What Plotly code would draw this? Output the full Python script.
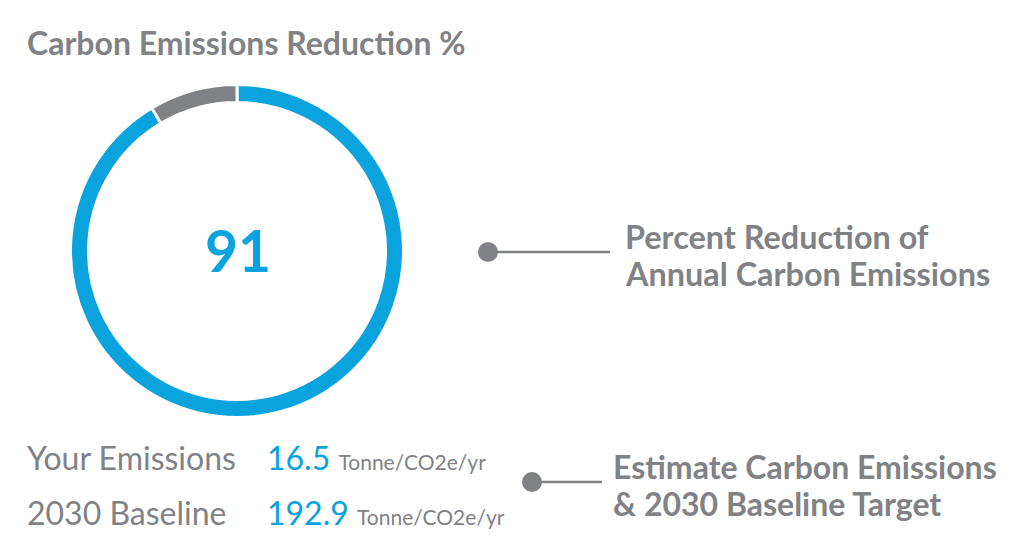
import plotly.graph_objects as go

W, H = 1024, 557
GRAY = "#808285"
BLUE = "#0ba3dd"

segments = ["Reduction", "Remaining"]
values = [91.45, 8.55]
seg_colors = [BLUE, GRAY]
center_label = "91"
title = "Carbon Emissions Reduction %"
rows = ["Your Emissions", "2030 Baseline"]
row_values = ["16.5", "192.9"]
unit = "Tonne/CO2e/yr"
callout1 = ["Percent Reduction of", "Annual Carbon Emissions"]
callout2 = ["Estimate Carbon Emissions", "& 2030 Baseline Target"]

def px(x):
    return x / W

def py(y):
    return 1 - y / H

fig = go.Figure()
fig.add_trace(go.Pie(
    labels=segments, values=values, sort=False, direction="clockwise", rotation=0,
    hole=0.892, textinfo="none", hoverinfo="label+value",
    marker=dict(colors=seg_colors, line=dict(color="white", width=3)),
    domain=dict(x=[px(70.5), px(403.5)], y=[py(417.5), py(84.5)]),
    showlegend=False,
))

ann = []
ann.append(dict(x=px(25), y=py(42), text=f"<b>{title}</b>", showarrow=False, xanchor="left",
                yanchor="middle", font=dict(family="Lato", size=32, color=GRAY)))
ann.append(dict(x=px(238), y=py(250), text=f"<b>{center_label}</b>", showarrow=False,
                xanchor="center", yanchor="middle", font=dict(family="Lato", size=57, color=BLUE)))
for i, t in enumerate(callout1):
    ann.append(dict(x=px(623), y=py(236 + 37 * i), text=f"<b>{t}</b>", showarrow=False,
                    xanchor="left", yanchor="middle", font=dict(family="Lato", size=32.4, color=GRAY)))
for i, t in enumerate(callout2):
    ann.append(dict(x=px(611), y=py(466 + 37 * i), text=f"<b>{t}</b>", showarrow=False,
                    xanchor="left", yanchor="middle", font=dict(family="Lato", size=32, color=GRAY)))
row_y = [457, 512]
for i, (lab, val) in enumerate(zip(rows, row_values)):
    ann.append(dict(x=px(25), y=py(row_y[i]), text=lab, showarrow=False, xanchor="left",
                    yanchor="middle", font=dict(family="Lato", size=32, color=GRAY)))
    ann.append(dict(x=px(265), y=py(row_y[i]),
                    text=f"<span style='font-size:32px;color:{BLUE}'>{val}</span> "
                         f"<span style='font-size:21px;color:{GRAY}'>{unit}</span>",
                    showarrow=False, xanchor="left", yanchor="middle",
                    font=dict(family="Lato", size=32, color=GRAY)))

shapes = [
    dict(type="line", xref="paper", yref="paper", x0=px(488), x1=px(610), y0=py(252), y1=py(252),
         line=dict(color=GRAY, width=2.5)),
    dict(type="circle", xref="paper", yref="paper", x0=px(478), x1=px(498), y0=py(242), y1=py(262),
         fillcolor=GRAY, line=dict(width=0)),
    dict(type="line", xref="paper", yref="paper", x0=px(532), x1=px(602), y0=py(482), y1=py(482),
         line=dict(color=GRAY, width=2.5)),
    dict(type="circle", xref="paper", yref="paper", x0=px(522), x1=px(542), y0=py(472), y1=py(492),
         fillcolor=GRAY, line=dict(width=0)),
]

fig.update_layout(
    width=W, height=H, margin=dict(l=0, r=0, t=0, b=0),
    paper_bgcolor="white", plot_bgcolor="white",
    annotations=ann, shapes=shapes, font=dict(family="Lato"),
)
fig.write_html("out.html", config={"displayModeBar": False},
               post_script="document.body.style.margin='0px';")
